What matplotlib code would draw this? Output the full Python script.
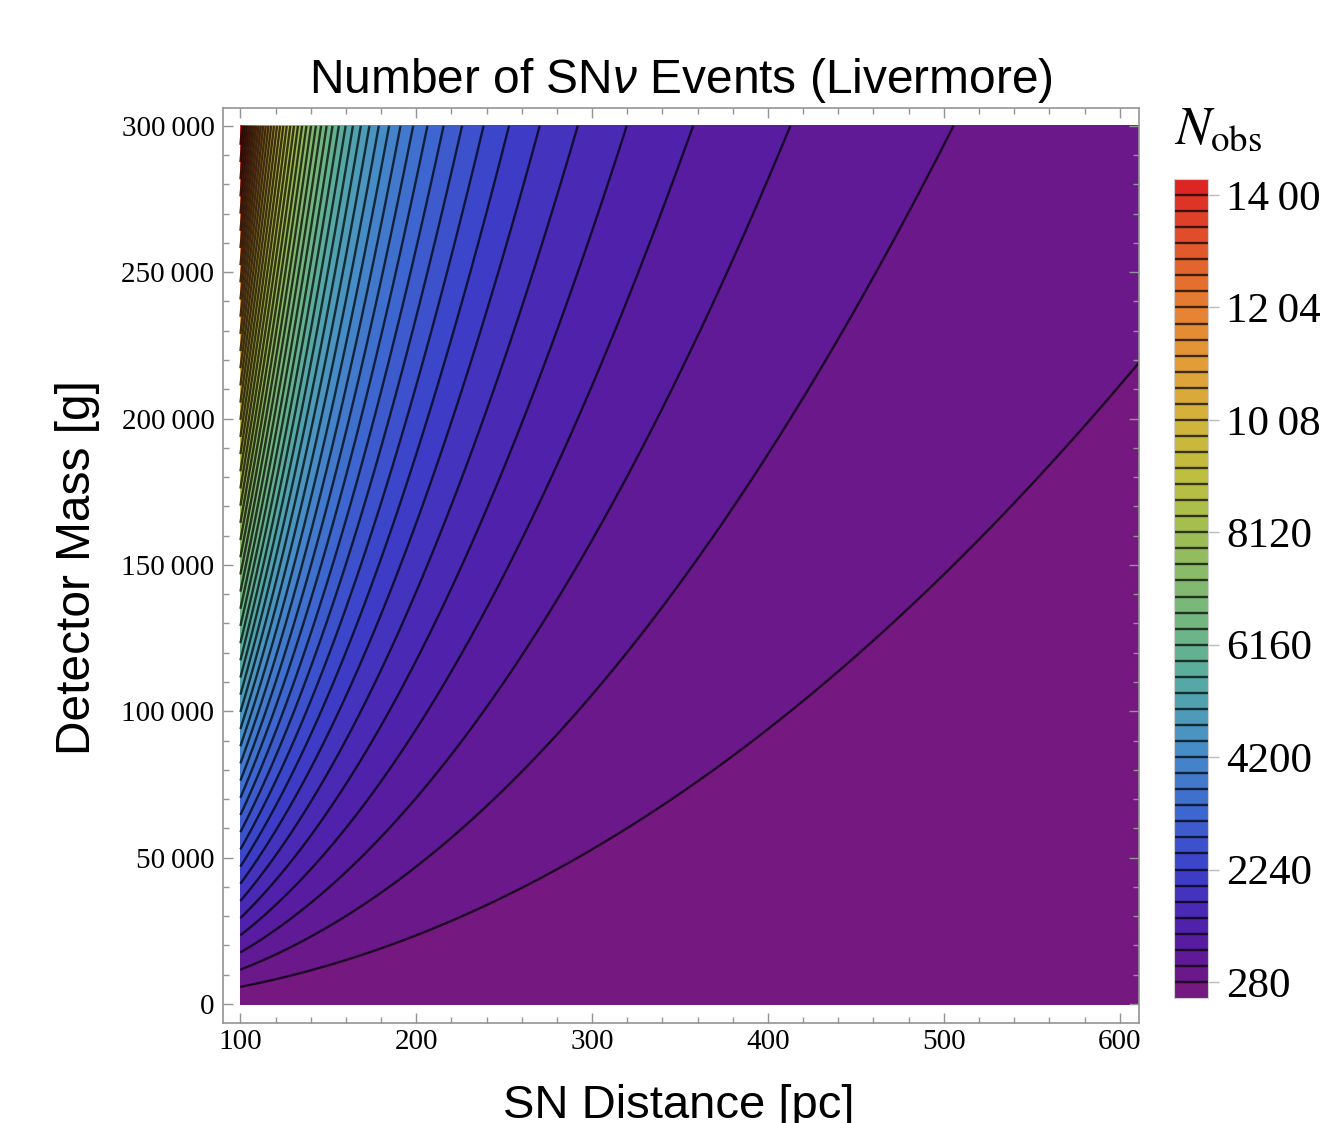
import numpy as np
import matplotlib
matplotlib.use("Agg")
import matplotlib.pyplot as plt
from matplotlib.colors import LinearSegmentedColormap, Normalize

plt.rcParams["mathtext.fontset"] = "custom"
plt.rcParams["mathtext.rm"] = "Liberation Sans"
plt.rcParams["mathtext.it"] = "Liberation Sans:italic"

# expected neutrino events: N = rate_coeff * mass[g] / distance[pc]^2
rate_coeff = 477.0
distance_range = (100.0, 611.0)      # pc
mass_range = (0.0, 300000.0)         # g

contour_step = 280
contour_levels = list(range(280, 14001, contour_step))
cbar_ticks = [280, 2240, 4200, 6160, 8120, 10080, 12040, 14000]
x_ticks = [100, 200, 300, 400, 500, 600]
y_ticks = [0, 50000, 100000, 150000, 200000, 250000, 300000]

# rainbow-like palette, purple -> blue -> green -> yellow -> red
palette = [
    (0.00, (122, 24, 122)),
    (0.03, (104, 24, 140)),
    (0.08, (82, 30, 168)),
    (0.15, (60, 62, 200)),
    (0.22, (62, 100, 208)),
    (0.30, (70, 140, 200)),
    (0.37, (82, 165, 172)),
    (0.43, (104, 180, 140)),
    (0.51, (134, 186, 108)),
    (0.57, (162, 190, 80)),
    (0.64, (192, 190, 62)),
    (0.71, (212, 178, 60)),
    (0.77, (226, 158, 56)),
    (0.84, (230, 128, 50)),
    (0.91, (226, 90, 44)),
    (1.00, (220, 32, 34)),
]
cmap = LinearSegmentedColormap.from_list(
    "snrainbow", [(p, tuple(c / 255 for c in rgb)) for p, rgb in palette])

d = np.linspace(*distance_range, 900)
m = np.linspace(*mass_range, 900)
D, M = np.meshgrid(d, m)
N = rate_coeff * M / D**2
n_max = N.max()

fill_levels = [0] + contour_levels + [n_max]
norm = Normalize(vmin=0, vmax=n_max)

fig = plt.figure(figsize=(13.22, 11.23), dpi=100)
ax = fig.add_axes([0.1685, 0.089, 0.6931, 0.8151])

cf = ax.contourf(D, M, N, levels=fill_levels, cmap=cmap, norm=norm)
cl = ax.contour(D, M, N, levels=contour_levels, colors="black",
                alpha=0.72, linewidths=1.7)

ax.set_xlim(90, 611)
ax.set_ylim(-6500, 306200)

frame_grey = "#939393"
for sp in ax.spines.values():
    sp.set_color(frame_grey)
    sp.set_linewidth(1.2)

ax.set_xticks(x_ticks)
ax.set_xticklabels([str(v) for v in x_ticks])
ax.set_yticks(y_ticks)
ax.set_yticklabels([f"{v:,}".replace(",", "\u2009") for v in y_ticks])
ax.set_xticks(np.arange(100, 611, 20), minor=True)
ax.set_yticks(np.arange(0, 300001, 10000), minor=True)
ax.tick_params(which="both", direction="in", top=True, right=True,
               color=frame_grey, width=1.0)
ax.tick_params(which="major", length=7)
ax.tick_params(which="minor", length=4)
ax.tick_params(axis="x", pad=4)
ax.tick_params(axis="y", pad=6)
for lab in ax.get_xticklabels() + ax.get_yticklabels():
    lab.set_fontfamily("Liberation Serif")
    lab.set_fontsize(21)

# colour key
cax = fig.add_axes([0.888, 0.1113, 0.0257, 0.7293])
cb = fig.colorbar(cf, cax=cax)
cb.add_lines(cl)
cb.outline.set_edgecolor("#d0d0d0")
cb.outline.set_linewidth(0.8)
cb.set_ticks(cbar_ticks)
cb.set_ticklabels([f"{v:,}".replace(",", "\u2009") if v >= 10000 else str(v)
                   for v in cbar_ticks])
cax.tick_params(direction="out", length=8, width=1.0, color="#bbbbbb", pad=5)
for lab in cax.get_yticklabels():
    lab.set_fontfamily("Liberation Serif")
    lab.set_fontsize(31)

fig.text(0.888, 0.8718, r"$N_{\mathrm{obs}}$", fontsize=38,
         math_fontfamily="stix", ha="left", va="baseline")

fig.text(0.5151, 1 - 93 / 1123, r"Number of SN$\nu$ Events (Livermore)",
         fontsize=34.5, family="Liberation Sans", ha="center", va="baseline")
fig.text(0.059, 1 - 568 / 1123, "Detector Mass [g]", fontsize=34.5,
         family="Liberation Sans", rotation=90, ha="center", va="center")
fig.text(0.5136, 1 - 1118 / 1123, "SN Distance [pc]", fontsize=34,
         family="Liberation Sans", ha="center", va="baseline")

fig.savefig("out.png", dpi=100)
